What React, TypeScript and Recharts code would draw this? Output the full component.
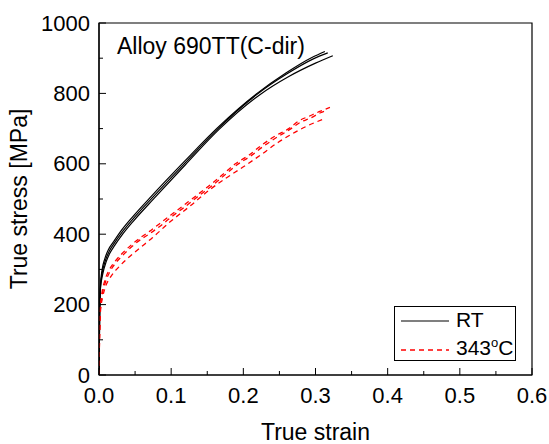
import { LineChart, Line, XAxis, YAxis, ReferenceArea, Legend } from "recharts";

// strain / stress, three RT and three 343°C tests
const rt1Strain = [0, 0.0008, 0.002, 0.004, 0.008, 0.013, 0.02, 0.03, 0.046, 0.074, 0.118, 0.164, 0.219, 0.259, 0.295, 0.313];
const rt1Stress = [0, 160, 255, 295, 330, 356, 378, 408, 448, 511, 606, 702, 800, 858, 902, 919];

const rt2Strain = [0, 0.0008, 0.002, 0.0045, 0.009, 0.014, 0.021, 0.031, 0.047, 0.075, 0.119, 0.165, 0.22, 0.26, 0.297, 0.317];
const rt2Stress = [0, 155, 250, 290, 326, 351, 374, 403, 443, 506, 602, 700, 799, 855, 898, 915];

const rt3Strain = [0, 0.0008, 0.002, 0.005, 0.01, 0.015, 0.022, 0.032, 0.048, 0.076, 0.12, 0.166, 0.222, 0.263, 0.3, 0.324];
const rt3Stress = [0, 150, 245, 285, 322, 346, 369, 398, 438, 501, 598, 697, 795, 848, 886, 907];

const ht1Strain = [0, 0.0008, 0.002, 0.004, 0.008, 0.014, 0.022, 0.032, 0.045, 0.058, 0.07, 0.084, 0.1, 0.116, 0.139, 0.157, 0.171, 0.189, 0.208, 0.226, 0.245, 0.263, 0.277, 0.291, 0.305, 0.32];
const ht1Stress = [0, 120, 195, 232, 268, 298, 322, 345, 370, 391, 408, 430, 455, 480, 516, 545, 569, 600, 625, 654, 680, 700, 722, 735, 748, 760];

const ht2Strain = [0, 0.0008, 0.002, 0.0045, 0.009, 0.015, 0.023, 0.033, 0.046, 0.06, 0.072, 0.086, 0.102, 0.118, 0.14, 0.158, 0.173, 0.19, 0.21, 0.228, 0.247, 0.264, 0.279, 0.293, 0.307, 0.316];
const ht2Stress = [0, 115, 190, 228, 264, 293, 318, 340, 366, 388, 404, 425, 452, 476, 512, 540, 566, 595, 622, 650, 676, 697, 718, 730, 745, 752];

const ht3Strain = [0, 0.0008, 0.002, 0.005, 0.009, 0.015, 0.028, 0.04, 0.055, 0.074, 0.099, 0.125, 0.152, 0.175, 0.199, 0.226, 0.249, 0.272, 0.291, 0.31];
const ht3Stress = [0, 110, 180, 220, 251, 275, 308, 332, 358, 390, 436, 478, 524, 558, 590, 628, 662, 690, 710, 726];

const xTicks = [0, 0.05, 0.1, 0.15, 0.2, 0.25, 0.3, 0.35, 0.4, 0.45, 0.5, 0.55, 0.6];
const yTicks = [0, 100, 200, 300, 400, 500, 600, 700, 800, 900, 1000];

const FONT = "'Liberation Sans', Arial, sans-serif";

const zip = (xs: number[], ys: number[]) => xs.map((x, i) => ({ x, y: ys[i] }));

const rtSeries = [zip(rt1Strain, rt1Stress), zip(rt2Strain, rt2Stress), zip(rt3Strain, rt3Stress)];
const htSeries = [zip(ht1Strain, ht1Stress), zip(ht2Strain, ht2Stress), zip(ht3Strain, ht3Stress)];

function XTick({ x, y, payload }: any) {
  const major = Math.round(payload.value * 100) % 10 === 0;
  return (
    <g>
      <line x1={x} x2={x} y1={y} y2={y - (major ? 7 : 4)} stroke="#000" strokeWidth={1} />
      {major && (
        <text x={x} y={y + 28} textAnchor="middle" fontSize={22} fontFamily={FONT} fill="#000">
          {payload.value.toFixed(1)}
        </text>
      )}
    </g>
  );
}

function YTick({ x, y, payload }: any) {
  const major = payload.value % 200 === 0;
  return (
    <g>
      <line x1={x} x2={x + (major ? 7 : 4)} y1={y} y2={y} stroke="#000" strokeWidth={1} />
      {major && (
        <text x={x - 9} y={y + 7.5} textAnchor="end" fontSize={22} fontFamily={FONT} fill="#000">
          {payload.value}
        </text>
      )}
    </g>
  );
}

function LegendBox() {
  return (
    <div
      style={{
        width: 120,
        height: 53,
        border: "1px solid #000",
        background: "#fff",
        fontFamily: FONT,
        fontSize: 21,
        color: "#000",
        position: "relative",
      }}
    >
      <svg width={60} height={53} style={{ position: "absolute", left: 0, top: 0 }}>
        <line x1={6} x2={54} y1={14} y2={14} stroke="#000" strokeWidth={1.2} />
        <line x1={6} x2={54} y1={43} y2={43} stroke="#ff0000" strokeWidth={1.3} strokeDasharray="5 4" />
      </svg>
      <div style={{ position: "absolute", left: 61, top: 1, lineHeight: "24px" }}>RT</div>
      <div style={{ position: "absolute", left: 61, top: 29, lineHeight: "24px", whiteSpace: "nowrap" }}>
        343<span style={{ fontSize: 13, position: "relative", top: -8 }}>o</span>C
      </div>
    </div>
  );
}

export default function App() {
  return (
    <div style={{ position: "absolute", left: 0, top: 0, width: 549, height: 444, background: "#fff" }}>
      <LineChart width={549} height={444} margin={{ top: 23, right: 17, bottom: 0, left: 0 }}>
        <XAxis
          type="number"
          dataKey="x"
          domain={[0, 0.6]}
          ticks={xTicks}
          interval={0}
          height={69}
          tickSize={0}
          tickMargin={0}
          tick={<XTick />}
          axisLine={{ stroke: "#000", strokeWidth: 1.2 }}
          allowDataOverflow
          label={{
            content: ({ viewBox }: any) => (
              <text
                x={viewBox.x + viewBox.width / 2}
                y={viewBox.y + 65}
                textAnchor="middle"
                fontSize={23}
                fontFamily={FONT}
                fill="#000"
              >
                True strain
              </text>
            ),
          }}
        />
        <YAxis
          type="number"
          dataKey="y"
          domain={[0, 1000]}
          ticks={yTicks}
          interval={0}
          width={99}
          tickSize={0}
          tickMargin={0}
          tick={<YTick />}
          axisLine={{ stroke: "#000", strokeWidth: 1.2 }}
          allowDataOverflow
          label={{
            content: ({ viewBox }: any) => {
              const cy = viewBox.y + viewBox.height / 2;
              return (
                <text
                  x={27}
                  y={cy}
                  transform={`rotate(-90, 27, ${cy})`}
                  textAnchor="middle"
                  fontSize={23}
                  fontFamily={FONT}
                  fill="#000"
                >
                  True stress [MPa]
                </text>
              );
            },
          }}
        />
        <ReferenceArea x1={0} x2={0.6} y1={0} y2={1000} fill="none" stroke="#000" strokeWidth={1.2} ifOverflow="visible" />
        {rtSeries.map((d, i) => (
          <Line
            key={`rt${i}`}
            data={d}
            dataKey="y"
            type="monotone"
            stroke="#000"
            strokeWidth={1.2}
            dot={false}
            isAnimationActive={false}
          />
        ))}
        {htSeries.map((d, i) => (
          <Line
            key={`ht${i}`}
            data={d}
            dataKey="y"
            type="monotone"
            stroke="#ff0000"
            strokeWidth={1.3}
            strokeDasharray="5 4"
            dot={false}
            isAnimationActive={false}
          />
        ))}
        <Legend
          layout="horizontal"
          verticalAlign="middle"
          align="center"
          content={() => <LegendBox />}
          wrapperStyle={{ left: 394, top: 306, width: 122, height: 55 }}
        />
      </LineChart>
      <div
        style={{
          position: "absolute",
          left: 117,
          top: 33,
          fontFamily: FONT,
          fontSize: 23,
          lineHeight: "26px",
          color: "#000",
          whiteSpace: "nowrap",
        }}
      >
        Alloy 690TT(C-dir)
      </div>
    </div>
  );
}
